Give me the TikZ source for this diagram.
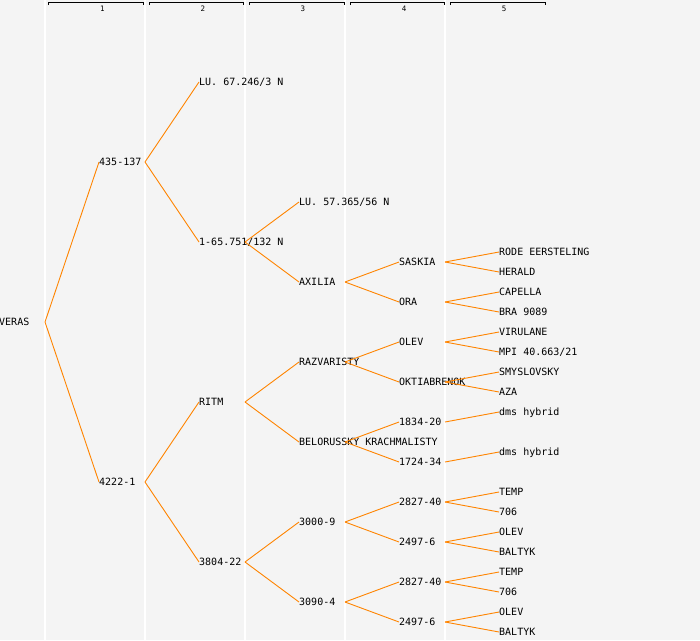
\documentclass[tikz,border=0pt]{standalone}
\usepackage{fontspec}
\setmonofont{DejaVu Sans Mono}

\definecolor{branch}{RGB}{255,132,0}
\definecolor{paper}{RGB}{244,244,244}

\tikzset{
  taxon/.style = {anchor = west, inner sep = 0pt, text height = 7pt, text depth = 0pt,
                  font = \ttfamily\fontsize{10}{10}\selectfont},
  link/.style = {draw = branch, line width = 0.9pt},
  colhead/.style = {inner sep = 0pt, font = \ttfamily\fontsize{7.5}{7.5}\selectfont},
  bracket/.style = {draw = black, line width = 0.9pt}
}

\begin{document}
\begin{tikzpicture}[x = 1pt, y = -1pt]
            \fill[paper] (0, 0) rectangle (700, 640);
            \useasboundingbox (0, 0) rectangle (700, 640);

            \draw[white, line width = 1.2pt] (45, 0) -- (45, 640);
            \draw[white, line width = 1.2pt] (145, 0) -- (145, 640);
            \draw[white, line width = 1.2pt] (245, 0) -- (245, 640);
            \draw[white, line width = 1.2pt] (345, 0) -- (345, 640);
            \draw[white, line width = 1.2pt] (445, 0) -- (445, 640);

            \draw[bracket] (48.5, 5) -- (48.5, 2) -- (143, 2) -- (143, 5);
            \draw[bracket] (149, 5) -- (149, 2) -- (243.5, 2) -- (243.5, 5);
            \draw[bracket] (249.5, 5) -- (249.5, 2) -- (344, 2) -- (344, 5);
            \draw[bracket] (350, 5) -- (350, 2) -- (444.5, 2) -- (444.5, 5);
            \draw[bracket] (450.5, 5) -- (450.5, 2) -- (545, 2) -- (545, 5);
            \node[colhead] (h1) at (102.5, 8.5) {1};
            \node[colhead] (h2) at (203, 8.5) {2};
            \node[colhead] (h3) at (303, 8.5) {3};
            \node[colhead] (h4) at (404, 8.5) {4};
            \node[colhead] (h5) at (504, 8.5) {5};

            \node[taxon] (veras) at (-1, 322) {VERAS};

            \node[taxon] (s435) at (99, 162) {435-137};
            \node[taxon] (s4222) at (99, 482) {4222-1};

            \node[taxon] (lu67) at (199, 82) {LU. 67.246/3 N};
            \node[taxon] (s165) at (199, 242) {1-65.751/132 N};
            \node[taxon] (ritm) at (199, 402) {RITM};
            \node[taxon] (s3804) at (199, 562) {3804-22};

            \node[taxon] (lu57) at (299, 202) {LU. 57.365/56 N};
            \node[taxon] (axilia) at (299, 282) {AXILIA};
            \node[taxon] (razv) at (299, 362) {RAZVARISTY};
            \node[taxon] (belo) at (299, 442) {BELORUSSKY KRACHMALISTY};
            \node[taxon] (s3000) at (299, 522) {3000-9};
            \node[taxon] (s3090) at (299, 602) {3090-4};

            \node[taxon] (saskia) at (399, 262) {SASKIA};
            \node[taxon] (ora) at (399, 302) {ORA};
            \node[taxon] (olevA) at (399, 342) {OLEV};
            \node[taxon] (oktia) at (399, 382) {OKTIABRENOK};
            \node[taxon] (s1834) at (399, 422) {1834-20};
            \node[taxon] (s1724) at (399, 462) {1724-34};
            \node[taxon] (s2827a) at (399, 502) {2827-40};
            \node[taxon] (s2497a) at (399, 542) {2497-6};
            \node[taxon] (s2827b) at (399, 582) {2827-40};
            \node[taxon] (s2497b) at (399, 622) {2497-6};

            \node[taxon] (rode) at (499, 252) {RODE EERSTELING};
            \node[taxon] (herald) at (499, 272) {HERALD};
            \node[taxon] (capella) at (499, 292) {CAPELLA};
            \node[taxon] (bra) at (499, 312) {BRA 9089};
            \node[taxon] (viru) at (499, 332) {VIRULANE};
            \node[taxon] (mpi) at (499, 352) {MPI 40.663/21};
            \node[taxon] (smys) at (499, 372) {SMYSLOVSKY};
            \node[taxon] (aza) at (499, 392) {AZA};
            \node[taxon] (dmsA) at (499, 412) {dms hybrid};
            \node[taxon] (dmsB) at (499, 452) {dms hybrid};
            \node[taxon] (tempA) at (499, 492) {TEMP};
            \node[taxon] (s706a) at (499, 512) {706};
            \node[taxon] (olevB) at (499, 532) {OLEV};
            \node[taxon] (baltykA) at (499, 552) {BALTYK};
            \node[taxon] (tempB) at (499, 572) {TEMP};
            \node[taxon] (s706b) at (499, 592) {706};
            \node[taxon] (olevC) at (499, 612) {OLEV};
            \node[taxon] (baltykB) at (499, 632) {BALTYK};

            \draw[link] ([xshift = 46pt]veras.west) -- (s435.west);
            \draw[link] ([xshift = 46pt]veras.west) -- (s4222.west);

            \draw[link] ([xshift = 46pt]s435.west) -- (lu67.west);
            \draw[link] ([xshift = 46pt]s435.west) -- (s165.west);
            \draw[link] ([xshift = 46pt]s4222.west) -- (ritm.west);
            \draw[link] ([xshift = 46pt]s4222.west) -- (s3804.west);

            \draw[link] ([xshift = 46pt]s165.west) -- (lu57.west);
            \draw[link] ([xshift = 46pt]s165.west) -- (axilia.west);
            \draw[link] ([xshift = 46pt]ritm.west) -- (razv.west);
            \draw[link] ([xshift = 46pt]ritm.west) -- (belo.west);
            \draw[link] ([xshift = 46pt]s3804.west) -- (s3000.west);
            \draw[link] ([xshift = 46pt]s3804.west) -- (s3090.west);

            \draw[link] ([xshift = 46pt]axilia.west) -- (saskia.west);
            \draw[link] ([xshift = 46pt]axilia.west) -- (ora.west);
            \draw[link] ([xshift = 46pt]razv.west) -- (olevA.west);
            \draw[link] ([xshift = 46pt]razv.west) -- (oktia.west);
            \draw[link] ([xshift = 46pt]belo.west) -- (s1834.west);
            \draw[link] ([xshift = 46pt]belo.west) -- (s1724.west);
            \draw[link] ([xshift = 46pt]s3000.west) -- (s2827a.west);
            \draw[link] ([xshift = 46pt]s3000.west) -- (s2497a.west);
            \draw[link] ([xshift = 46pt]s3090.west) -- (s2827b.west);
            \draw[link] ([xshift = 46pt]s3090.west) -- (s2497b.west);

            \draw[link] ([xshift = 46pt]saskia.west) -- (rode.west);
            \draw[link] ([xshift = 46pt]saskia.west) -- (herald.west);
            \draw[link] ([xshift = 46pt]ora.west) -- (capella.west);
            \draw[link] ([xshift = 46pt]ora.west) -- (bra.west);
            \draw[link] ([xshift = 46pt]olevA.west) -- (viru.west);
            \draw[link] ([xshift = 46pt]olevA.west) -- (mpi.west);
            \draw[link] ([xshift = 46pt]oktia.west) -- (smys.west);
            \draw[link] ([xshift = 46pt]oktia.west) -- (aza.west);
            \draw[link] ([xshift = 46pt]s1834.west) -- (dmsA.west);
            \draw[link] ([xshift = 46pt]s1724.west) -- (dmsB.west);
            \draw[link] ([xshift = 46pt]s2827a.west) -- (tempA.west);
            \draw[link] ([xshift = 46pt]s2827a.west) -- (s706a.west);
            \draw[link] ([xshift = 46pt]s2497a.west) -- (olevB.west);
            \draw[link] ([xshift = 46pt]s2497a.west) -- (baltykA.west);
            \draw[link] ([xshift = 46pt]s2827b.west) -- (tempB.west);
            \draw[link] ([xshift = 46pt]s2827b.west) -- (s706b.west);
            \draw[link] ([xshift = 46pt]s2497b.west) -- (olevC.west);
            \draw[link] ([xshift = 46pt]s2497b.west) -- (baltykB.west);

        \end{tikzpicture}
\end{document}
